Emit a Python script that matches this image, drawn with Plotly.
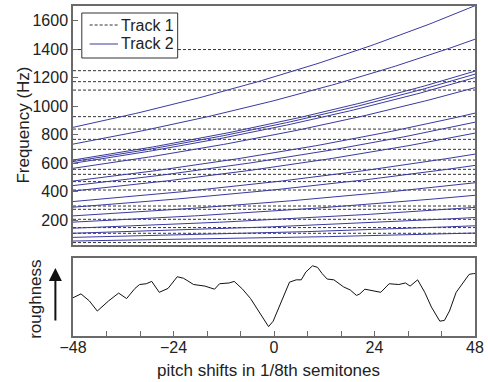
import numpy as np
import plotly.graph_objects as go

# ---------------- data ----------------
shift_tick_vals = [-48, -24, 0, 24, 48]
freq_tick_vals = [200, 400, 600, 800, 1000, 1200, 1400, 1600]

# pitch shift axis (1/8th semitones)
shifts = list(range(-48, 49))

# Track 1: fixed partial frequencies (Hz)
track1_freqs = [45, 110, 150, 208, 278, 301, 413, 472, 523, 558,
                623, 698, 768, 840, 927, 1113, 1172, 1249, 1397]

# Track 2: partial frequencies at zero shift (Hz)
track2_base_freqs = [1205, 1039, 881, 866, 849, 799, 673, 628, 574,
                     470, 414, 328, 266, 206, 156, 115, 79]

# roughness curve
rough_shift = [-48, -46.1, -44.1, -42.2, -39.5, -37.1, -35.2, -33.2, -32.1, -30.5,
               -29.2, -27.4, -25.3, -23.1, -21.6, -19.2, -16.5, -14.2, -13.0, -10.7,
               -9.5, -7.5, -5.6, -3.7, -1.3, -0.2, 1.8, 3.7, 5.3, 6.5,
               7.6, 9.2, 10.4, 11.5, 12.7, 14.3, 16.6, 18.2, 19.7, 20.5,
               21.7, 23.6, 25.5, 27.5, 29.8, 31.4, 32.5, 34.3, 36.0, 37.6,
               39.6, 40.7, 41.9, 43.5, 45.4, 46.6, 47.6, 48]
rough_value = [0.49, 0.54, 0.45, 0.32, 0.45, 0.55, 0.48, 0.61, 0.66, 0.67,
               0.70, 0.56, 0.61, 0.76, 0.74, 0.66, 0.64, 0.60, 0.67, 0.68,
               0.70, 0.60, 0.48, 0.32, 0.12, 0.19, 0.45, 0.69, 0.72, 0.72,
               0.82, 0.90, 0.88, 0.80, 0.73, 0.72, 0.63, 0.59, 0.52, 0.54,
               0.60, 0.58, 0.56, 0.67, 0.66, 0.68, 0.64, 0.72, 0.56, 0.37,
               0.19, 0.20, 0.32, 0.56, 0.71, 0.79, 0.80, 0.80]

legend_labels = ["Track 1", "Track 2"]

# ---------------- figure ----------------
FONT = "Liberation Sans, Arial, sans-serif"
BLUE = "#3a3aa0"
DASH_COLOR = "#333333"
FRAME = "#6a6a6a"

W, H = 488, 382
ML, MR, MT, MB = 73, 4, 6, 46
PW, PH = W - ML - MR, H - MT - MB


def px_x(px):
    return (px - ML) / PW


def px_y(py):
    return (H - MB - py) / PH


fig = go.Figure()

shift_arr = np.array(shifts, dtype=float)
for f in track1_freqs:
    fig.add_trace(go.Scatter(
        x=[shifts[0], shifts[-1]], y=[f, f], mode="lines",
        line=dict(color=DASH_COLOR, width=1, dash="3px,2px"),
        name=legend_labels[0], showlegend=False,
        xaxis="x", yaxis="y", hoverinfo="skip"))

for f0 in track2_base_freqs:
    fig.add_trace(go.Scatter(
        x=shifts, y=f0 * 2 ** (shift_arr / 96.0), mode="lines",
        line=dict(color=BLUE, width=1),
        name=legend_labels[1], showlegend=False,
        xaxis="x", yaxis="y", hoverinfo="skip"))

fig.add_trace(go.Scatter(
    x=rough_shift, y=rough_value, mode="lines",
    line=dict(color="#111111", width=1),
    showlegend=False, xaxis="x2", yaxis="y2", hoverinfo="skip"))

axis_common = dict(showline=True, linecolor=FRAME, linewidth=1.5, mirror=True,
                   showgrid=False, zeroline=False)

top_domain = [px_y(245), 1]
bot_domain = [0, px_y(258)]

fig.update_layout(
    width=W, height=H,
    margin=dict(l=ML, r=MR, t=MT, b=MB),
    paper_bgcolor="white", plot_bgcolor="white",
    font=dict(family=FONT, size=16, color="#222222"),
    xaxis=dict(domain=[0, 1], range=[-48, 48], showticklabels=False, ticks="",
               anchor="y", **axis_common),
    yaxis=dict(domain=top_domain, range=[28, 1702], tickvals=freq_tick_vals,
               ticks="inside", ticklen=5, tickcolor=FRAME, anchor="x",
               tickfont=dict(size=16), **axis_common),
    xaxis2=dict(domain=[0, 1], range=[-48, 48], tickvals=shift_tick_vals,
                ticks="inside", ticklen=5, tickcolor=FRAME,
                minor=dict(dtick=8, tick0=0, ticks="inside", ticklen=5, tickcolor=FRAME),
                anchor="y2", tickfont=dict(size=16), ticklabeloverflow="allow",
                ticklabelstandoff=-4, **axis_common),
    yaxis2=dict(domain=bot_domain, range=[0, 1], showticklabels=False, ticks="",
                anchor="x2", **axis_common),
    showlegend=False,
)

# manual legend box
fig.add_shape(type="rect", xref="paper", yref="paper",
              x0=px_x(82), x1=px_x(180), y0=px_y(58), y1=px_y(13),
              line=dict(color="#333333", width=1), fillcolor="white", layer="above")
fig.add_shape(type="line", xref="paper", yref="paper",
              x0=px_x(90), x1=px_x(119), y0=px_y(25), y1=px_y(25),
              line=dict(color=DASH_COLOR, width=1, dash="3px,2px"), layer="above")
fig.add_shape(type="line", xref="paper", yref="paper",
              x0=px_x(90), x1=px_x(119), y0=px_y(44), y1=px_y(44),
              line=dict(color=BLUE, width=1), layer="above")
for lbl, py in zip(legend_labels, [25, 44]):
    fig.add_annotation(text=lbl, xref="paper", yref="paper",
                       x=px_x(120), y=px_y(py), showarrow=False,
                       xanchor="left", yanchor="middle", font=dict(size=16))

fig.add_annotation(text="Frequency (Hz)", textangle=-90, xref="paper", yref="paper",
                   x=px_x(22), y=(top_domain[0] + top_domain[1]) / 2, showarrow=False,
                   font=dict(size=17), xanchor="center", yanchor="middle")
fig.add_annotation(text="roughness", textangle=-90, xref="paper", yref="paper",
                   x=px_x(34), y=px_y(299), showarrow=False,
                   font=dict(size=17), xanchor="center", yanchor="middle")
fig.add_annotation(text="", xref="paper", yref="paper",
                   x=px_x(55), y=px_y(268), ax=0, ay=54,
                   showarrow=True, arrowhead=2, arrowsize=1.3, arrowwidth=2,
                   arrowcolor="#111111")
fig.add_annotation(text="pitch shifts in 1/8th semitones", xref="paper", yref="paper",
                   x=px_x(273), y=px_y(371), showarrow=False, font=dict(size=17),
                   xanchor="center", yanchor="middle")

fig.write_html("out.html", config={"displayModeBar": False},
               post_script="document.body.style.margin='0';")
